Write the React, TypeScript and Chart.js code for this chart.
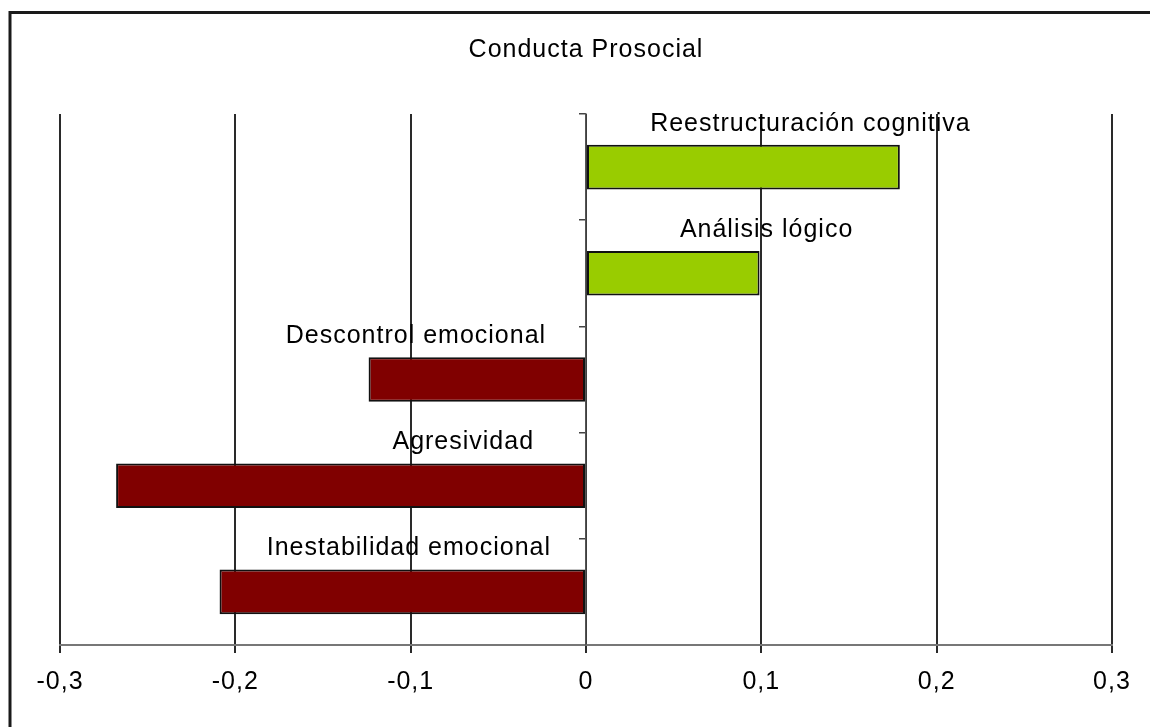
import React, { useEffect, useRef } from 'react';
import { Chart, registerables } from 'chart.js';

Chart.register(...registerables);

const TITLE = 'Conducta Prosocial';
const categories = [
  'Reestructuración cognitiva',
  'Análisis lógico',
  'Descontrol emocional',
  'Agresividad',
  'Inestabilidad emocional',
];
const values = [0.179, 0.099, -0.124, -0.268, -0.209];
const barColors = ['#99CC00', '#99CC00', '#800000', '#800000', '#800000'];
const xMin = -0.3;
const xMax = 0.3;
const xStep = 0.1;

// layout config: where each category name is centred (in x-axis units) above its bar
const LABEL_CENTERS = [0.128, 0.103, -0.097, -0.07, -0.101];

const FONT = '"Liberation Sans", Arial, sans-serif';
const FONT_SIZE = 25;

const fmt = (v: number) => {
  const r = Math.round(v * 10) / 10;
  if (r === 0) return '0';
  return r.toFixed(1).replace('.', ',');
};

const framePlugin = {
  id: 'frame',
  beforeDraw(chart: any) {
    const ctx = chart.ctx;
    ctx.save();
    ctx.fillStyle = '#ffffff';
    ctx.fillRect(0, 0, chart.width, chart.height);
    ctx.strokeStyle = '#1a1a1a';
    ctx.lineWidth = 3;
    ctx.strokeRect(10, 12.5, chart.width + 20, chart.height + 20);
    ctx.restore();
    ctx.letterSpacing = '1px';
  },
};

const labelPlugin = {
  id: 'catLabels',
  afterDatasetsDraw(chart: any) {
    const ctx = chart.ctx;
    const meta = chart.getDatasetMeta(0);
    const xs = chart.scales.x;
    ctx.save();
    ctx.font = `${FONT_SIZE}px ${FONT}`;
    ctx.fillStyle = '#000000';
    ctx.textAlign = 'center';
    ctx.textBaseline = 'middle';
    meta.data.forEach((bar: any, i: number) => {
      const { y, height } = bar.getProps(['y', 'height'], true);
      ctx.fillText(categories[i], xs.getPixelForValue(LABEL_CENTERS[i]), y - height / 2 - 21);
    });
    ctx.restore();
  },
};

export default function App() {
  const ref = useRef<HTMLCanvasElement | null>(null);

  useEffect(() => {
    if (!ref.current) return;
    const chart = new Chart(ref.current, {
      type: 'bar',
      data: {
        labels: categories,
        datasets: [
          {
            data: values,
            backgroundColor: barColors,
            borderColor: '#111111',
            borderWidth: 2,
            borderSkipped: false,
            barPercentage: 0.42,
            categoryPercentage: 1,
          },
        ],
      },
      options: {
        indexAxis: 'y',
        responsive: false,
        maintainAspectRatio: false,
        animation: false,
        layout: { padding: { left: 60, right: 38, top: 0, bottom: 16 } },
        plugins: {
          legend: { display: false },
          tooltip: { enabled: false },
          title: {
            display: true,
            text: TITLE,
            color: '#000000',
            font: { family: FONT, size: FONT_SIZE, weight: 'normal' },
            padding: { top: 35, bottom: 49 },
          },
        },
        scales: {
          x: {
            type: 'linear',
            min: xMin,
            max: xMax,
            ticks: {
              stepSize: xStep,
              color: '#000000',
              font: { family: FONT, size: FONT_SIZE },
              padding: 14,
              callback: (v: any) => fmt(Number(v)),
            },
            grid: {
              color: '#2a2a2a',
              lineWidth: 2,
              drawTicks: true,
              tickLength: 8,
            },
            border: { display: true, color: '#777777', width: 2 },
          },
          y: {
            type: 'category',
            position: { x: 0 } as any,
            ticks: { display: false },
            grid: {
              display: true,
              drawOnChartArea: false,
              drawTicks: true,
              tickLength: 6,
              color: '#444444',
              lineWidth: 1.5,
              offset: true,
            },
            border: { display: true, color: '#555555', width: 1.5 },
          },
        },
      },
      plugins: [framePlugin, labelPlugin],
    } as any);
    return () => chart.destroy();
  }, []);

  return (
    <div style={{ position: 'absolute', left: 0, top: 0, width: 1150, height: 727 }}>
      <canvas ref={ref} width={1150} height={727} style={{ display: 'block' }} />
    </div>
  );
}
